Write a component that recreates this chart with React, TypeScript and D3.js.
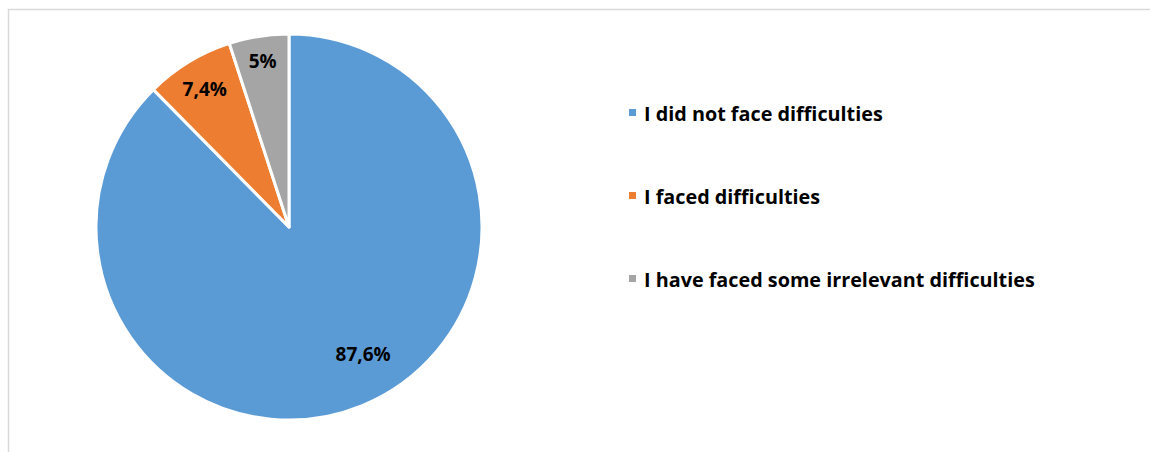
import React from "react";
import * as d3 from "d3";

const categories = [
  "I did not face difficulties",
  "I faced difficulties",
  "I have faced some irrelevant difficulties",
];
const values = [87.6, 7.4, 5];
const labels = ["87,6%", "7,4%", "5%"];
const colors = ["#5B9BD5", "#ED7D31", "#A5A5A5"];

const W = 1150;
const H = 452;
const cx = 289;
const cy = 227;
const R = 193;
// label placement (radius fraction, angle nudge in radians)
const labelRadius = [0.76, 0.84, 0.87];
const labelNudge = [-0.14, 0, 0];

export default function App() {
  const pie = d3.pie<number>().sort(null).value((d) => d)(values);
  const arc = d3.arc<d3.PieArcDatum<number>>().innerRadius(0).outerRadius(R);
  const font = "'Open Sans', sans-serif";
  const legendY = d3.scalePoint<string>().domain(categories).range([113, 279]);

  return (
    <svg
      width={W}
      height={H}
      style={{ position: "absolute", left: 0, top: 0, background: "#fff" }}
    >
      <rect x={0} y={0} width={W} height={H} fill="#fff" />
      <path d={`M8.5,${H} V9.5 H${W}`} fill="none" stroke="#d9d9d9" strokeWidth={1.5} />
      <g transform={`translate(${cx},${cy})`}>
        {pie.map((p, i) => (
          <path key={i} d={arc(p) || ""} fill={colors[i]} stroke="#fff" strokeWidth={3} strokeLinejoin="round" />
        ))}
        {pie.map((p, i) => {
          const a = (p.startAngle + p.endAngle) / 2 + labelNudge[i];
          const r = R * labelRadius[i];
          return (
            <text
              key={i}
              x={Math.sin(a) * r}
              y={-Math.cos(a) * r}
              textAnchor="middle"
              dominantBaseline="central"
              fontFamily={font}
              fontWeight="bold"
              fontSize={19}
              fill="#000"
            >
              {labels[i]}
            </text>
          );
        })}
      </g>
      {categories.map((c, i) => (
        <g key={c} transform={`translate(629,${legendY(c)})`}>
          <rect x={0} y={-4} width={7} height={7} fill={colors[i]} />
          <text
            x={15}
            y={0}
            dominantBaseline="central"
            fontFamily={font}
            fontWeight="bold"
            fontSize={19.8}
            fill="#000"
          >
            {c}
          </text>
        </g>
      ))}
    </svg>
  );
}
